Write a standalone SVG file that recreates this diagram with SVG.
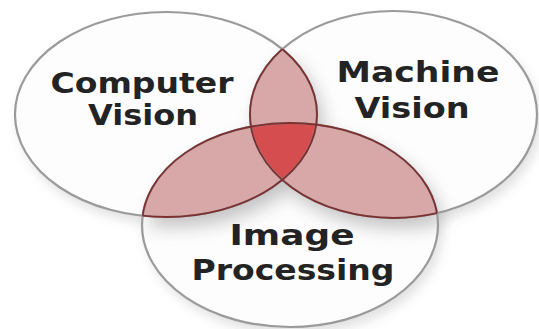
<svg xmlns="http://www.w3.org/2000/svg" width="539" height="329" viewBox="0 0 539 329">
<defs>
<style>
.ring{fill:none;stroke:#9a9a9a;stroke-width:2.2}
.face{fill:#fdfdfd}
.pair{fill:#d8a8a9}
.triple{fill:#d64d4f}
.edge{fill:none;stroke:#7d3030;stroke-width:1.8}
.lbl{font-family:"DejaVu Sans","Liberation Sans",sans-serif;font-weight:bold;font-size:28px;fill:#232323;text-anchor:middle}
</style>
<ellipse id="eA" cx="166" cy="114.5" rx="151" ry="102.5"/>
<ellipse id="eB" cx="393.5" cy="114.5" rx="143.5" ry="103.5"/>
<ellipse id="eC" cx="290" cy="225" rx="148" ry="102"/>
<clipPath id="cA"><use href="#eA"/></clipPath>
<clipPath id="cB"><use href="#eB"/></clipPath>
<clipPath id="cC"><use href="#eC"/></clipPath>
<clipPath id="cAB" clip-path="url(#cA)"><use href="#eB"/></clipPath>
<clipPath id="cBC"><use href="#eB"/><use href="#eC"/></clipPath>
<clipPath id="cAC"><use href="#eA"/><use href="#eC"/></clipPath>
<clipPath id="cAuB"><use href="#eA"/><use href="#eB"/></clipPath>
<filter id="sh" x="-20%" y="-20%" width="140%" height="160%">
<feGaussianBlur stdDeviation="9"/>
</filter>
<filter id="sh2" x="-10%" y="-10%" width="120%" height="130%">
<feGaussianBlur stdDeviation="6"/>
</filter>
</defs>
<rect width="539" height="329" fill="#ffffff"/>
<!-- soft outer shadow -->
<g opacity="0.18" filter="url(#sh2)" transform="translate(4,7)">
<use href="#eA" fill="#555"/>
<use href="#eB" fill="#555"/>
<use href="#eC" fill="#555"/>
</g>
<g id="node-computer-vision">
<use href="#eA" class="face"/>
</g>
<g id="node-machine-vision">
<use href="#eB" class="face"/>
</g>
<g id="node-image-processing">
<use href="#eC" class="face"/>
</g>
<!-- inner shadow under overlaps -->
<g opacity="0.35" filter="url(#sh)" transform="translate(6,10)">
<g clip-path="url(#cA)"><use href="#eB" fill="#555"/><use href="#eC" fill="#555"/></g>
<g clip-path="url(#cB)"><use href="#eC" fill="#555"/></g>
</g>
<g id="overlaps">
<g clip-path="url(#cA)"><use href="#eB" class="pair"/><use href="#eC" class="pair"/></g>
<g clip-path="url(#cB)"><use href="#eC" class="pair"/></g>
<g clip-path="url(#cAB)"><use href="#eC" class="triple"/></g>
</g>
<g id="outlines">
<use href="#eA" class="ring"/>
<use href="#eB" class="ring"/>
<use href="#eC" class="ring"/>
<g clip-path="url(#cBC)"><use href="#eA" class="edge"/></g>
<g clip-path="url(#cAC)"><use href="#eB" class="edge"/></g>
<g clip-path="url(#cAuB)"><use href="#eC" class="edge"/></g>
</g>
<g id="labels">
<text class="lbl" x="142" y="93" textLength="183" lengthAdjust="spacingAndGlyphs">Computer</text>
<text class="lbl" x="143" y="125" textLength="110" lengthAdjust="spacingAndGlyphs">Vision</text>
<text class="lbl" x="418" y="82" textLength="163" lengthAdjust="spacingAndGlyphs">Machine</text>
<text class="lbl" x="412" y="118" textLength="115" lengthAdjust="spacingAndGlyphs">Vision</text>
<text class="lbl" x="292" y="245" textLength="125" lengthAdjust="spacingAndGlyphs">Image</text>
<text class="lbl" x="293" y="280" textLength="203" lengthAdjust="spacingAndGlyphs">Processing</text>
</g>
</svg>
